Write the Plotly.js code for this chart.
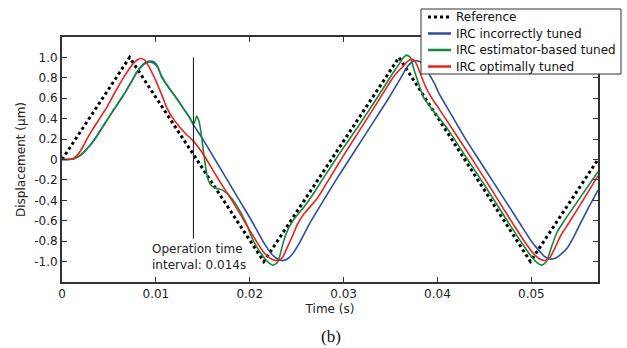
<!DOCTYPE html>
<html>
<head>
<meta charset="utf-8">
<script src="https://cdn.plot.ly/plotly-3.0.1.min.js"></script>
<style>html,body{margin:0;padding:0;background:#fff}#chart{width:627px;height:348px}</style>
</head>
<body>
<div id="chart"></div>
<script>
// Reference triangle
var refT = [0, 0.0072, 0.0215, 0.0359, 0.0499, 0.0571];
var refY = [0, 1, -1, 1, -1, 0];

// IRC incorrectly tuned
var blueT = [0,0.0006,0.0012,0.0018,0.0024,0.0030,0.0035,0.0042,0.0049,0.0056,0.0064,0.0070,0.0075,0.0080,0.0085,0.0090,0.0094,0.0098,0.0102,0.0106,0.0114,0.0122,0.0130,0.0136,0.0140,0.0150,0.0163,0.0176,0.0189,0.0202,0.0214,0.0222,0.0228,0.0234,0.0240,0.0246,0.0254,0.0263,0.0278,0.0292,0.0306,0.0320,0.0334,0.0348,0.0361,0.0368,0.0373,0.0377,0.0381,0.0386,0.0391,0.0397,0.0402,0.0416,0.0430,0.0444,0.0458,0.0472,0.0486,0.0500,0.0508,0.0514,0.0520,0.0526,0.0532,0.0538,0.0545,0.0552,0.0561,0.0571];
var blueY = [0,0,0.005,0.03,0.08,0.14,0.20,0.30,0.40,0.50,0.61,0.70,0.78,0.86,0.92,0.955,0.965,0.955,0.91,0.81,0.70,0.60,0.49,0.41,0.34,0.20,0.0,-0.20,-0.40,-0.60,-0.80,-0.91,-0.965,-0.99,-0.975,-0.92,-0.80,-0.64,-0.41,-0.20,0.0,0.20,0.40,0.60,0.80,0.91,0.955,0.967,0.96,0.92,0.84,0.74,0.64,0.42,0.20,0.0,-0.20,-0.40,-0.60,-0.80,-0.89,-0.95,-0.975,-0.965,-0.925,-0.87,-0.76,-0.63,-0.47,-0.30];

// IRC estimator-based tuned
var greenT = [0,0.0006,0.0012,0.0018,0.0024,0.0030,0.0035,0.0042,0.0049,0.0056,0.0064,0.0070,0.0075,0.0080,0.0085,0.0090,0.0094,0.0098,0.0102,0.0106,0.0114,0.0122,0.0130,0.0136,0.0140,0.01418,0.01434,0.01450,0.01470,0.01490,0.01505,0.01520,0.01534,0.01559,0.01594,0.01647,0.01701,0.01754,0.01807,0.0186,0.0195,0.0204,0.0212,0.0219,0.0225,0.0230,0.0236,0.0241,0.0246,0.0252,0.0259,0.0266,0.0280,0.0295,0.0316,0.0334,0.0352,0.0358,0.0363,0.0367,0.0371,0.0375,0.0380,0.0385,0.0392,0.0410,0.0430,0.0450,0.0474,0.0490,0.0500,0.0506,0.0511,0.0516,0.0521,0.0527,0.0535,0.0550,0.0571];
var greenY = [0,0,0.005,0.03,0.08,0.14,0.20,0.30,0.40,0.50,0.61,0.70,0.78,0.86,0.915,0.948,0.952,0.94,0.90,0.82,0.70,0.60,0.49,0.41,0.345,0.38,0.425,0.40,0.33,0.20,0.09,-0.01,-0.10,-0.20,-0.26,-0.284,-0.295,-0.33,-0.38,-0.45,-0.60,-0.80,-0.92,-1.0,-1.035,-1.0,-0.80,-0.68,-0.60,-0.53,-0.45,-0.36,-0.16,0.05,0.33,0.58,0.84,0.92,0.99,1.022,1.0,0.88,0.74,0.61,0.52,0.31,0.03,-0.25,-0.595,-0.82,-0.95,-1.01,-1.035,-1.0,-0.87,-0.72,-0.60,-0.40,-0.12];

// IRC optimally tuned
var redT = [0,0.0006,0.0012,0.0017,0.0022,0.00265,0.0033,0.0040,0.0047,0.0053,0.0059,0.00653,0.0071,0.0076,0.0080,0.0084,0.0088,0.0092,0.0096,0.0100,0.0106,0.0112,0.0117,0.0125,0.0132,0.0140,0.0148,0.0154,0.0167,0.0181,0.0194,0.0207,0.0215,0.0222,0.0228,0.0234,0.0240,0.0246,0.0251,0.0258,0.0272,0.0286,0.0300,0.0318,0.0336,0.0354,0.0363,0.0368,0.0372,0.0376,0.0381,0.0387,0.0394,0.0400,0.0420,0.0440,0.0460,0.0478,0.0494,0.0503,0.0509,0.0514,0.0519,0.0525,0.0531,0.0540,0.0555,0.0571];
var redY = [0,0,0.01,0.05,0.12,0.20,0.30,0.40,0.50,0.60,0.70,0.80,0.88,0.94,0.975,0.99,0.975,0.92,0.85,0.77,0.64,0.50,0.42,0.32,0.25,0.18,0.085,0.0,-0.20,-0.40,-0.60,-0.80,-0.91,-0.97,-0.99,-0.97,-0.86,-0.74,-0.63,-0.53,-0.38,-0.17,0.04,0.30,0.56,0.82,0.91,0.96,0.983,0.965,0.86,0.72,0.60,0.52,0.24,-0.04,-0.33,-0.595,-0.82,-0.93,-0.975,-0.99,-0.97,-0.87,-0.75,-0.62,-0.40,-0.16];

var seriesNames = ["Reference", "IRC incorrectly tuned", "IRC estimator-based tuned", "IRC optimally tuned"];
var xTickVals = [0, 0.01, 0.02, 0.03, 0.04, 0.05];
var xTickText = ["0", "0.01", "0.02", "0.03", "0.04", "0.05"];
var yTickVals = [1.0, 0.8, 0.6, 0.4, 0.2, 0, -0.2, -0.4, -0.6, -0.8, -1.0];
var yTickText = ["1.0", "0.8", "0.6", "0.4", "0.2", "0", "-0.2", "-0.4", "-0.6", "-0.8", "-1.0"];
var opTime = 0.014;

var FONT = "DejaVu Sans, Verdana, sans-serif";
var W = 627, H = 348;
var M = {l: 62, r: 29, t: 37, b: 66};
var colors = ['#000000', '#2b4fa0', '#158a3a', '#e8231e'];
var colLine = {shape: 'spline', smoothing: 0.6, width: 1.6};

var traces = [
  {x: refT, y: refY, name: seriesNames[0], mode: 'lines', line: {color: colors[0], width: 3, dash: 'dot'}},
  {x: blueT, y: blueY, name: seriesNames[1], mode: 'lines', line: Object.assign({color: colors[1]}, colLine)},
  {x: greenT, y: greenY, name: seriesNames[2], mode: 'lines', line: Object.assign({color: colors[2]}, colLine)},
  {x: redT, y: redY, name: seriesNames[3], mode: 'lines', line: Object.assign({color: colors[3]}, colLine)}
];

// pixel -> paper helpers (for the boxed legend drawn in the corner)
var plotW = W - M.l - M.r, plotH = H - M.t - M.b;
function px(xp) { return (xp - M.l) / plotW; }
function py(yp) { return (H - M.b - yp) / plotH; }

var shapes = [
  {type: 'line', xref: 'x', yref: 'y', x0: opTime, x1: opTime, y0: 1.0, y1: -0.775, line: {color: '#111111', width: 1}},
  {type: 'rect', xref: 'paper', yref: 'paper', x0: px(421), x1: px(621), y0: py(74), y1: py(9),
   fillcolor: '#ffffff', line: {color: '#333333', width: 1}, layer: 'above'}
];
var annotations = [
  {xref: 'x', yref: 'y', x: 0.00935, y: -0.952, xanchor: 'left', yanchor: 'middle', align: 'left', showarrow: false,
   text: 'Operation time<br>interval: ' + opTime + 's', font: {family: FONT, size: 12, color: '#222222'}},
  {xref: 'paper', yref: 'paper', x: 0.502, y: py(336), xanchor: 'center', yanchor: 'middle', showarrow: false,
   text: '(b)', font: {family: 'Liberation Serif, Times New Roman, serif', size: 17, color: '#111111'}}
];
var rowY = [17, 33.5, 50, 66.5];
for (var i = 0; i < seriesNames.length; i++) {
  shapes.push({type: 'line', xref: 'paper', yref: 'paper', x0: px(428), x1: px(451), y0: py(rowY[i]), y1: py(rowY[i]),
    line: i === 0 ? {color: colors[0], width: 3, dash: 'dot'} : {color: colors[i], width: 2.5}, layer: 'above'});
  annotations.push({xref: 'paper', yref: 'paper', x: px(454), y: py(rowY[i]), xanchor: 'left', yanchor: 'middle',
    showarrow: false, text: seriesNames[i], font: {family: FONT, size: 12, color: '#111111'}});
}

var axisCommon = {
  showgrid: false, zeroline: false, showline: true, linecolor: '#333333', linewidth: 2,
  mirror: 'ticks', ticks: 'inside', ticklen: 5, tickwidth: 1, tickcolor: '#333333',
  tickfont: {family: FONT, size: 12, color: '#222222'}
};

var layout = {
  width: W, height: H,
  margin: {l: M.l, r: M.r, t: M.t, b: M.b, autoexpand: false},
  paper_bgcolor: '#ffffff', plot_bgcolor: '#ffffff',
  font: {family: FONT, size: 12, color: '#222222'},
  showlegend: false,
  xaxis: Object.assign({}, axisCommon, {
    range: [0, 0.0571], tickvals: xTickVals, ticktext: xTickText,
    title: {text: 'Time (s)', font: {family: FONT, size: 12, color: '#222222'}, standoff: 4}
  }),
  yaxis: Object.assign({}, axisCommon, {
    range: [-1.2, 1.2], tickvals: yTickVals, ticktext: yTickText,
    title: {text: 'Displacement (µm)', font: {family: FONT, size: 12, color: '#222222'}, standoff: 6}
  }),
  shapes: shapes,
  annotations: annotations
};

Plotly.newPlot('chart', traces, layout, {displayModeBar: false, staticPlot: true});
</script>
</body>
</html>
